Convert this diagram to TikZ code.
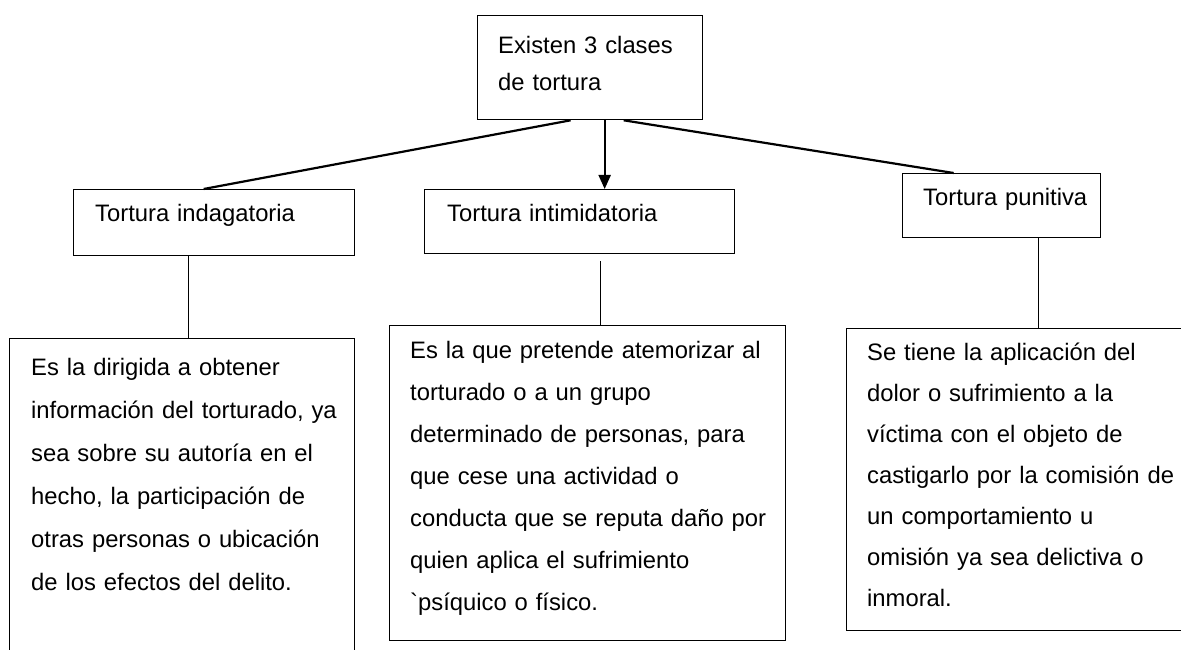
\documentclass[tikz,border=0pt]{standalone}
\usepackage{fontspec}
\setmainfont{Liberation Sans}
\usetikzlibrary{arrows.meta}
\tikzset{
  box/.style={draw, line width=1.3pt, anchor=north west, inner sep=0pt},
  txt/.style={anchor=base west, inner sep=0pt, align=left, text width=380pt},
  leading/.style={font=\fontsize{23.8}{#1}\selectfont},
  link/.style={line width=2.2pt},
  stem/.style={line width=1pt},
}
\begin{document}
\begin{tikzpicture}[x=1pt, y=-1pt, leading=42]
\useasboundingbox (0,0) rectangle (1181,650);
\clip (0,0) rectangle (1181,650);
% the boxes
\node[box, minimum width=225, minimum height=104] (clases) at (477,15) {};
\node[box, minimum width=281, minimum height=66] (indag) at (73,189) {};
\node[box, minimum width=310, minimum height=64] (intim) at (424,189) {};
\node[box, minimum width=198, minimum height=64] (puni) at (902,173) {};
\node[box, minimum width=345, minimum height=330] (leftbox) at (9,338) {};
\node[box, minimum width=396, minimum height=315] (midbox) at (389,325) {};
\node[box, minimum width=360, minimum height=302] (rightbox) at (846,328) {};
% the texts
\node[txt, leading=37] (clasestxt) at ([shift={(21,38.5)}]clases.north west)
  {Existen 3 clases\\de tortura};
\node[txt] (indagtxt) at ([shift={(22,32.5)}]indag.north west) {Tortura indagatoria};
\node[txt] (intimtxt) at ([shift={(23,32.5)}]intim.north west) {Tortura intimidatoria};
\node[txt] (punitxt) at ([shift={(21,32.5)}]puni.north west) {Tortura punitiva};
\node[txt, leading=43] (lefttxt) at ([shift={(22,37.5)}]leftbox.north west)
  {Es la dirigida a obtener\\información del torturado, ya\\sea sobre su autoría en el\\hecho, la participación de\\otras personas o ubicación\\de los efectos del delito.};
\node[txt] (midtxt) at ([shift={(21,33.5)}]midbox.north west)
  {Es la que pretende atemorizar al\\torturado o a un grupo\\determinado de personas, para\\que cese una actividad o\\conducta que se reputa daño por\\quien aplica el sufrimiento\\\textasciigrave psíquico o físico.};
\node[txt, leading=41] (righttxt) at ([shift={(21,32.5)}]rightbox.north west)
  {Se tiene la aplicación del\\dolor o sufrimiento a la\\víctima con el objeto de\\castigarlo por la comisión de\\un comportamiento u\\omisión ya sea delictiva o\\inmoral.};
% connectors
\draw[link] ([xshift=-19.5]clases.south) -- ([xshift=-10.5]indag.north);
\draw[link] ([xshift=33.5]clases.south) -- ([xshift=-48]puni.north);
\draw[link, -{Triangle[length=14pt, width=12pt]}] ([xshift=14.5]clases.south)
  -- ([xshift=14.5]clases.south |- intim.north);
\draw[stem] ([xshift=-26]indag.south) -- ([xshift=-26]indag.south |- leftbox.north);
\draw[stem] ([xshift=21, yshift=-7]intim.south) -- ([xshift=21]intim.south |- midbox.north);
\draw[stem] ([xshift=37]puni.south) -- ([xshift=37]puni.south |- rightbox.north);
\end{tikzpicture}
\end{document}
